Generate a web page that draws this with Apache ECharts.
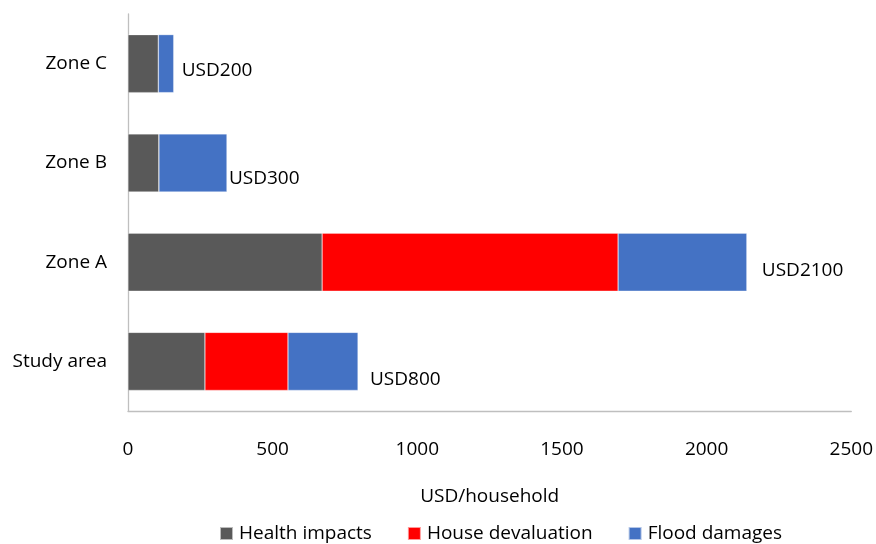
<!DOCTYPE html>
<html>
<head>
<meta charset="utf-8">
<script src="https://cdn.jsdelivr.net/npm/echarts@6/dist/echarts.min.js"></script>
<style>
  html, body { margin: 0; padding: 0; background: #fff; }
  #chart { width: 876px; height: 544px; }
</style>
</head>
<body>
<div id="chart"></div>
<script>
// bottom to top on the category axis
const categories = ['Study area', 'Zone A', 'Zone B', 'Zone C'];
const healthImpacts = [266, 671, 107, 105];
const houseDevaluation = [287, 1023, 0, 0];
const floodDamages = [242, 445, 235, 53];
const totalLabels = ['USD800', 'USD2100', 'USD300', 'USD200'];
const xTicks = [0, 500, 1000, 1500, 2000, 2500];

// label nudges, as placed in the reference
const labelOffsets = [[12, 18], [15, 8], [2, 16], [8, 7]];

const font = '"Open Sans", "Noto Sans", sans-serif';
const colors = ['#595959', '#ff0000', '#4472c4'];

const seriesCommon = {
  type: 'bar',
  stack: 'total',
  barWidth: 58,
  itemStyle: { borderColor: 'rgba(255,255,255,0.6)', borderWidth: 0.5 },
};

const chart = echarts.init(document.getElementById('chart'), null, { renderer: 'canvas' });

chart.setOption({
  animation: false,
  color: colors,
  textStyle: { fontFamily: font },
  grid: { left: 128, right: 22, top: 14, bottom: 133 },
  legend: {
    bottom: -4,
    left: 214,
    itemWidth: 13,
    itemHeight: 13,
    itemGap: 35,
    icon: 'rect',
    textStyle: { fontFamily: font, fontSize: 19, color: '#000', padding: [0, 0, 0, 1] },
    data: ['Health impacts', 'House devaluation', 'Flood damages'],
  },
  xAxis: {
    type: 'value',
    min: xTicks[0],
    max: xTicks[xTicks.length - 1],
    interval: xTicks[1] - xTicks[0],
    name: 'USD/household',
    nameLocation: 'middle',
    nameGap: 76,
    nameTextStyle: { fontFamily: font, fontSize: 19, color: '#000' },
    axisLine: { show: true, lineStyle: { color: '#bfbfbf', width: 1.3 } },
    axisTick: { show: false },
    splitLine: { show: false },
    axisLabel: {
      fontFamily: font,
      fontSize: 19,
      color: '#000',
      margin: 29,
      formatter: (v) => String(v),
    },
  },
  yAxis: {
    type: 'category',
    data: categories,
    axisLine: { show: true, lineStyle: { color: '#bfbfbf', width: 1.3 } },
    axisTick: { show: false },
    axisLabel: { fontFamily: font, fontSize: 19, color: '#000', margin: 21 },
  },
  series: [
    { name: 'Health impacts', ...seriesCommon, data: healthImpacts },
    { name: 'House devaluation', ...seriesCommon, data: houseDevaluation },
    {
      name: 'Flood damages',
      ...seriesCommon,
      data: floodDamages.map((v, i) => ({
        value: v,
        label: { offset: labelOffsets[i] },
      })),
      label: {
        show: true,
        position: 'right',
        distance: 0,
        fontFamily: font,
        fontSize: 19,
        color: '#000',
        formatter: (p) => totalLabels[p.dataIndex],
      },
    },
  ],
});
</script>
</body>
</html>
